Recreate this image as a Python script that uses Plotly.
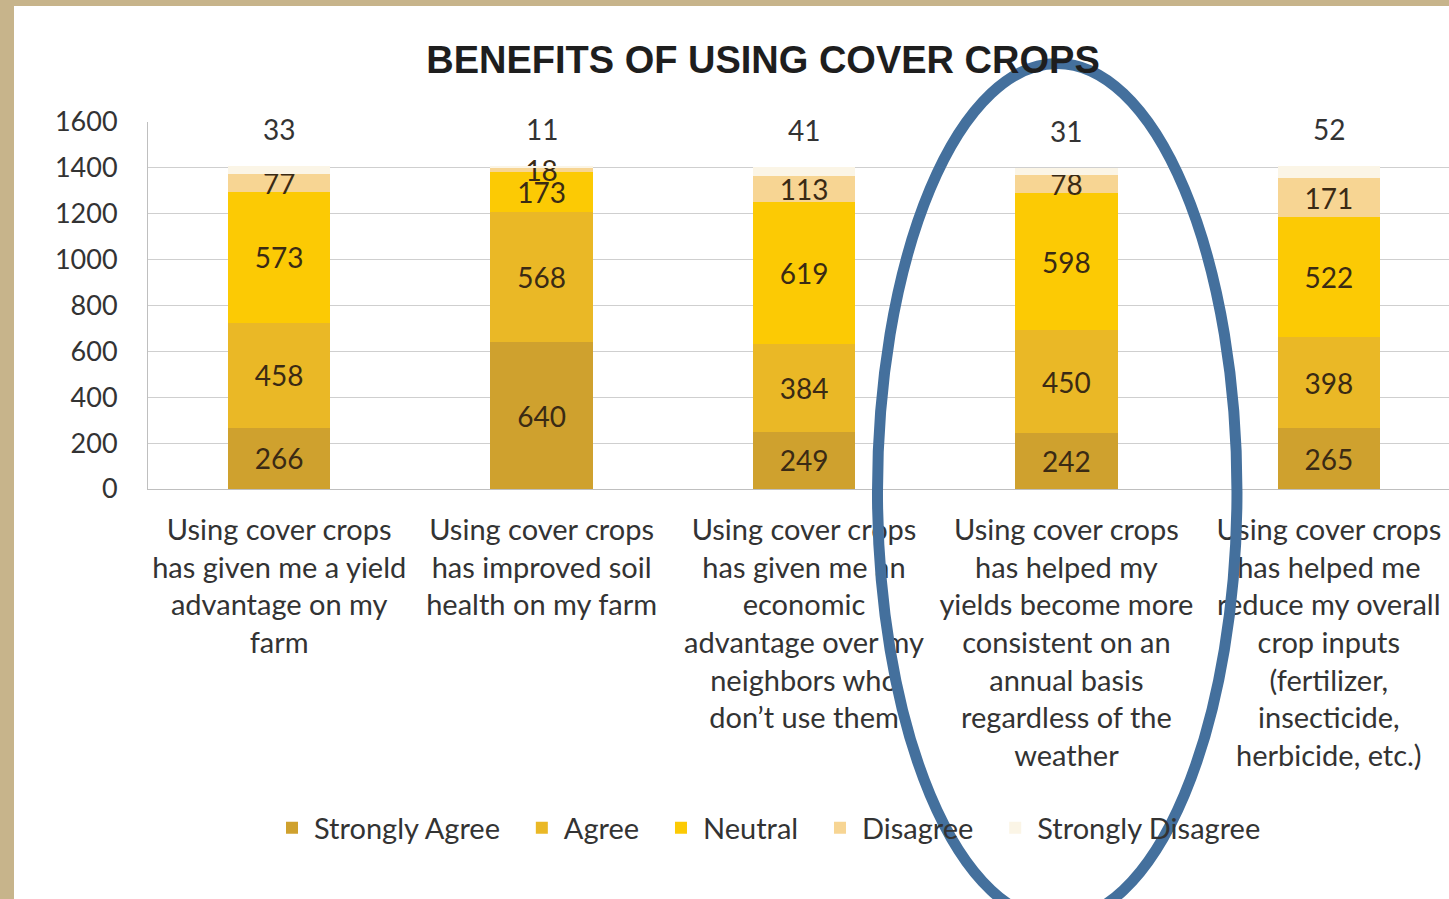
import plotly.graph_objects as go

# Survey statements (x categories)
statements = [
    "Using cover crops<br>has given me a yield<br>advantage on my<br>farm",
    "Using cover crops<br>has improved soil<br>health on my farm",
    "Using cover crops<br>has given me an<br>economic<br>advantage over my<br>neighbors who<br>don\u2019t use them",
    "Using cover crops<br>has helped my<br>yields become more<br>consistent on an<br>annual basis<br>regardless of the<br>weather",
    "Using cover crops<br>has helped me<br>reduce my overall<br>crop inputs<br>(fertilizer,<br>insecticide,<br>herbicide, etc.)",
]

# Response counts per statement
strongly_agree = [266, 640, 249, 242, 265]
agree = [458, 568, 384, 450, 398]
neutral = [573, 173, 619, 598, 522]
disagree = [77, 18, 113, 78, 171]
strongly_disagree = [33, 11, 41, 31, 52]

y_ticks = [0, 200, 400, 600, 800, 1000, 1200, 1400, 1600]

series = [
    ("Strongly Agree", strongly_agree, "#CFA12E"),
    ("Agree", agree, "#EAB826"),
    ("Neutral", neutral, "#FCCA04"),
    ("Disagree", disagree, "#F7D593"),
    ("Strongly Disagree", strongly_disagree, "#FBF5E6"),
]

FONT = "Lato"
LABEL_COLOR = "#3A2A14"
pad = "\u00a0\u00a0"

X_RANGE = [-0.5, 4.458]
Y_RANGE = [0, 1600]

fig = go.Figure()
for name, vals, color in series:
    inner = name != "Strongly Disagree"
    fig.add_trace(go.Bar(
        name=name + pad,
        x=statements,
        y=vals,
        width=0.39,
        marker=dict(color=color, line=dict(width=0)),
        text=[str(v) for v in vals] if inner else None,
        textposition="inside" if inner else "none",
        insidetextanchor="middle",
        constraintext="none",
        textangle=0,
        textfont=dict(family=FONT, size=28, color=LABEL_COLOR),
    ))

# Strongly Disagree counts sit above each stack
totals = [sum(t) for t in zip(strongly_agree, agree, neutral, disagree, strongly_disagree)]
for s, tot, v in zip(statements, totals, strongly_disagree):
    fig.add_annotation(
        x=s, y=tot, text=str(v), showarrow=False,
        yanchor="middle", yshift=37,
        font=dict(family=FONT, size=28, color="#333333"),
    )


def xp(idx):
    return (idx - X_RANGE[0]) / (X_RANGE[1] - X_RANGE[0])


def yp(val):
    return (val - Y_RANGE[0]) / (Y_RANGE[1] - Y_RANGE[0])


# Panel background
fig.add_shape(type="rect", xref="paper", yref="paper",
              x0=(14 - 148) / 1301, x1=1.05, y0=-2.0, y1=(489 - 6) / 367,
              fillcolor="white", line=dict(width=0), layer="below")

# Highlight ring around the fourth statement
fig.add_shape(type="circle", xref="paper", yref="paper",
              x0=xp(3 - 0.72), x1=xp(3 + 0.65), y0=yp(-1880), y1=yp(1855),
              line=dict(color="#44709D", width=11), fillcolor="rgba(0,0,0,0)")

fig.update_layout(
    width=1449, height=899,
    barmode="stack",
    paper_bgcolor="#C7B48B",
    plot_bgcolor="rgba(0,0,0,0)",
    margin=dict(l=148, r=0, t=122, b=410),
    font=dict(family=FONT, color="#3A3A3A"),
    title=dict(
        text="<b>BENEFITS OF USING COVER CROPS</b>",
        x=763 / 1449, xref="container", xanchor="center",
        y=1 - 60 / 899, yref="container", yanchor="middle",
        font=dict(family="Liberation Sans", size=38, color="#1E1E1E"),
    ),
    showlegend=True,
    legend=dict(
        orientation="h", x=(270 - 148) / 1301, xanchor="left",
        y=(489 - 828) / 367, yanchor="middle",
        font=dict(family=FONT, size=29, color="#333333"),
        bgcolor="rgba(0,0,0,0)", traceorder="normal", itemwidth=34,
    ),
    xaxis=dict(
        range=X_RANGE,
        tickfont=dict(family=FONT, size=29, color="#333333"),
        showgrid=False, showline=True, linecolor="#BFBFBF", linewidth=1,
        ticks="", ticklabelstandoff=15, fixedrange=True,
    ),
    yaxis=dict(
        range=Y_RANGE, tickvals=y_ticks,
        tickfont=dict(family=FONT, size=27, color="#333333"),
        showgrid=True, gridcolor="#CFCFCF", gridwidth=1,
        showline=True, linecolor="#BFBFBF", linewidth=1,
        zeroline=False, ticks="", ticklabelstandoff=24,
    ),
)

fig.write_html("out.html")
